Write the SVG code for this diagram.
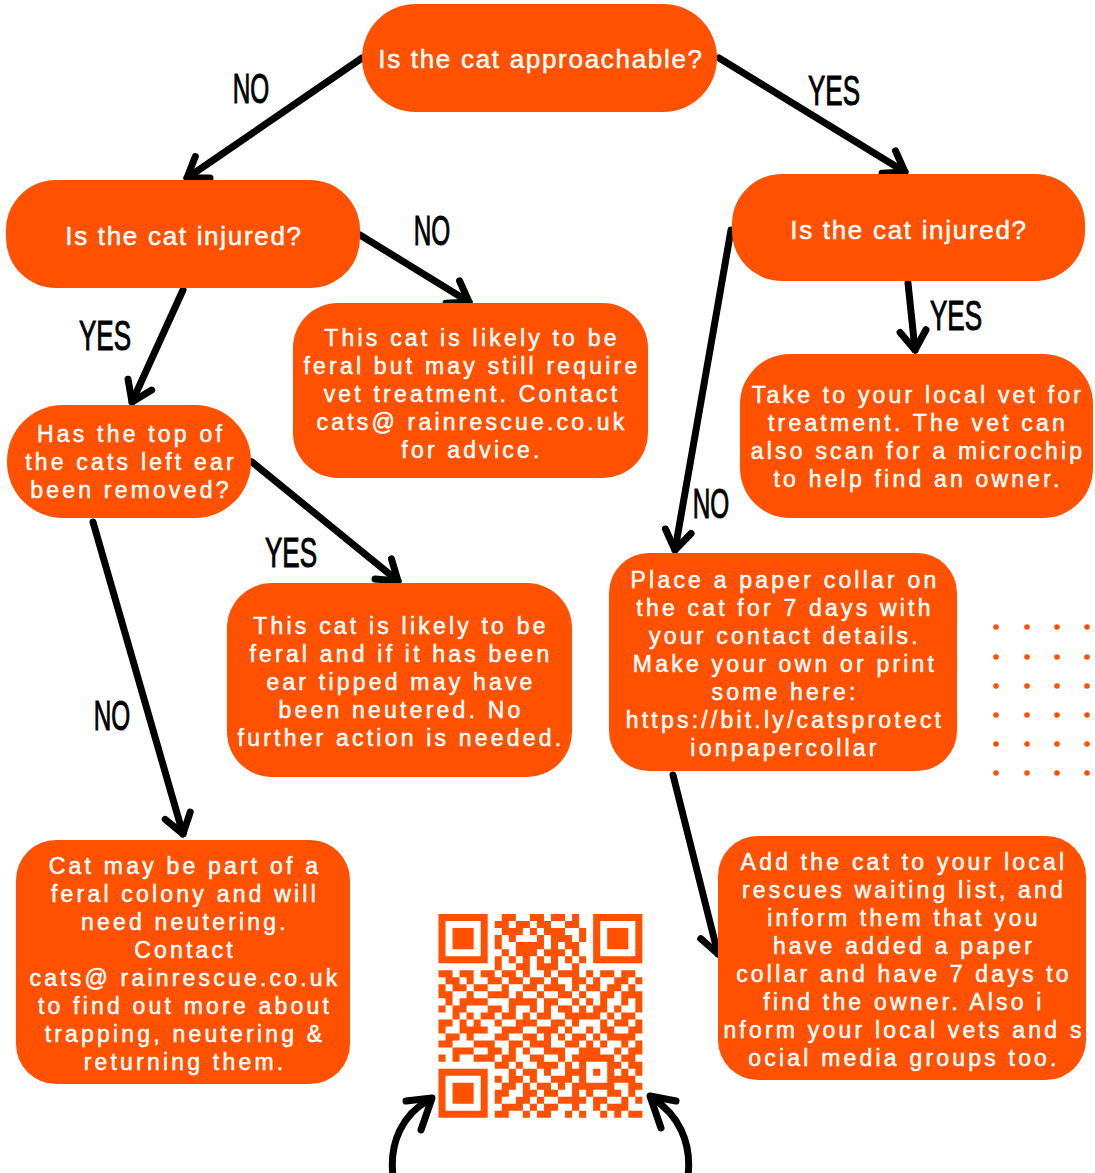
<svg xmlns="http://www.w3.org/2000/svg" width="1095" height="1173" viewBox="0 0 1095 1173">
<defs>
<style>
.node rect{fill:#FF5100}
.t{font-family:"Liberation Sans",Arial,sans-serif;fill:#fff;stroke:#fff;stroke-width:0.5;text-anchor:middle}
.title{font-size:26px;letter-spacing:1.7px}
.body{font-size:23px;letter-spacing:3.2px}
.lbl{font-family:"Liberation Sans",Arial,sans-serif;font-size:42px;fill:#000;stroke:#000;stroke-width:1;text-anchor:middle}
.edge{stroke:#000;stroke-width:7;fill:none;stroke-linecap:round;stroke-linejoin:round}
.dot{fill:#FF5100}
</style>
<marker id="ah" markerUnits="userSpaceOnUse" viewBox="-30 -20 40 40" refX="0" refY="0" markerWidth="40" markerHeight="40" orient="auto" overflow="visible">
<path d="M-19,-13 L0,0 L-19,13" fill="none" stroke="#000" stroke-width="7" stroke-linecap="round" stroke-linejoin="round"/>
</marker>
</defs>
<rect width="1095" height="1173" fill="#fff"/>

<g id="connectors">
<path class="edge" d="M362,58 L187,178" marker-end="url(#ah)"/>
<path class="edge" d="M719,58 L905,172" marker-end="url(#ah)"/>
<path class="edge" d="M360,235 L469,302" marker-end="url(#ah)"/>
<path class="edge" d="M183,290 L132,402" marker-end="url(#ah)"/>
<path class="edge" d="M908,283 L915,350" marker-end="url(#ah)"/>
<path class="edge" d="M731,230 L675,550" marker-end="url(#ah)"/>
<path class="edge" d="M252,462 L398,581" marker-end="url(#ah)"/>
<path class="edge" d="M93,522 L183,834" marker-end="url(#ah)"/>
<path class="edge" d="M673,775 L718,954" marker-end="url(#ah)"/>
<path class="edge" d="M393,1176 C389,1142 403,1114 429,1100"/>
<path class="edge" stroke-width="9" d="M406,1101 L432,1098 L421,1130"/>
<path class="edge" d="M688,1176 C692,1142 678,1114 652,1098"/>
<path class="edge" stroke-width="9" d="M676,1101 L650,1096 L661,1128"/>
</g>

<g id="labels">
<text class="lbl" transform="translate(251,103) scale(0.58,1)">NO</text>
<text class="lbl" transform="translate(834,105) scale(0.62,1)">YES</text>
<text class="lbl" transform="translate(432,245) scale(0.58,1)">NO</text>
<text class="lbl" transform="translate(105,350) scale(0.62,1)">YES</text>
<text class="lbl" transform="translate(956,330) scale(0.62,1)">YES</text>
<text class="lbl" transform="translate(711,518) scale(0.58,1)">NO</text>
<text class="lbl" transform="translate(291,567) scale(0.62,1)">YES</text>
<text class="lbl" transform="translate(112,730) scale(0.58,1)">NO</text>
</g>

<g id="n1" class="node">
<rect x="362" y="4" width="355" height="108" rx="54"/>
<text class="t title" x="541" y="68">Is the cat approachable?</text>
</g>
<g id="n2" class="node">
<rect x="6" y="180" width="354" height="108" rx="50"/>
<text class="t title" x="184" y="245">Is the cat injured?</text>
</g>
<g id="n3" class="node">
<rect x="732" y="174" width="353" height="107" rx="50"/>
<text class="t title" x="909" y="239">Is the cat injured?</text>
</g>
<g id="n4" class="node">
<rect x="293" y="303" width="355" height="175" rx="45"/>
<text class="t body"><tspan x="472" y="346">This cat is likely to be</tspan><tspan x="472" y="374">feral but may still require</tspan><tspan x="472" y="402">vet treatment. Contact</tspan><tspan x="472" y="430">cats@ rainrescue.co.uk</tspan><tspan x="472" y="458">for advice.</tspan></text>
</g>
<g id="n5" class="node">
<rect x="740" y="354" width="353" height="164" rx="50"/>
<text class="t body"><tspan x="918" y="403">Take to your local vet for</tspan><tspan x="918" y="431">treatment. The vet can</tspan><tspan x="918" y="459">also scan for a microchip</tspan><tspan x="918" y="487">to help find an owner.</tspan></text>
</g>
<g id="n6" class="node">
<rect x="7" y="405" width="244" height="113" rx="56"/>
<text class="t body"><tspan x="131" y="442">Has the top of</tspan><tspan x="131" y="470">the cats left ear</tspan><tspan x="131" y="498">been removed?</tspan></text>
</g>
<g id="n7" class="node">
<rect x="227" y="583" width="345" height="194" rx="45"/>
<text class="t body"><tspan x="401" y="634">This cat is likely to be</tspan><tspan x="401" y="662">feral and if it has been</tspan><tspan x="401" y="690">ear tipped may have</tspan><tspan x="401" y="718">been neutered. No</tspan><tspan x="401" y="746">further action is needed.</tspan></text>
</g>
<g id="n8" class="node">
<rect x="609" y="553" width="348" height="218" rx="40"/>
<text class="t body"><tspan x="785" y="588">Place a paper collar on</tspan><tspan x="785" y="616">the cat for 7 days with</tspan><tspan x="785" y="644">your contact details.</tspan><tspan x="785" y="672">Make your own or print</tspan><tspan x="785" y="700">some here:</tspan><tspan x="785" y="728">https://bit.ly/catsprotect</tspan><tspan x="785" y="756">ionpapercollar</tspan></text>
</g>
<g id="n9" class="node">
<rect x="16" y="840" width="334" height="244" rx="40"/>
<text class="t body"><tspan x="185" y="874">Cat may be part of a</tspan><tspan x="185" y="902">feral colony and will</tspan><tspan x="185" y="930">need neutering.</tspan><tspan x="185" y="958">Contact</tspan><tspan x="185" y="986">cats@ rainrescue.co.uk</tspan><tspan x="185" y="1014">to find out more about</tspan><tspan x="185" y="1042">trapping, neutering &amp;</tspan><tspan x="185" y="1070">returning them.</tspan></text>
</g>
<g id="n10" class="node">
<rect x="718" y="836" width="368" height="244" rx="40"/>
<text class="t body"><tspan x="904" y="870">Add the cat to your local</tspan><tspan x="904" y="898">rescues waiting list, and</tspan><tspan x="904" y="926">inform them that you</tspan><tspan x="904" y="954">have added a paper</tspan><tspan x="904" y="982">collar and have 7 days to</tspan><tspan x="904" y="1010">find the owner. Also i</tspan><tspan x="904" y="1038">nform your local vets and s</tspan><tspan x="904" y="1066">ocial media groups too.</tspan></text>
</g>

<g id="qr">
<path fill="#FF5100" transform="translate(438.5 914) scale(7.03)" d="M0 0h7v1h-7zM9 0h2v1h-2zM13 0h2v1h-2zM16 0h2v1h-2zM19 0h1v1h-1zM22 0h7v1h-7z
M0 1h1v1h-1zM6 1h1v1h-1zM8 1h2v1h-2zM11 1h2v1h-2zM14 1h2v1h-2zM18 1h2v1h-2zM22 1h1v1h-1zM28 1h1v1h-1z
M0 2h1v1h-1zM2 2h3v1h-3zM6 2h1v1h-1zM9 2h3v1h-3zM13 2h1v1h-1zM15 2h3v1h-3zM20 2h1v1h-1zM22 2h1v1h-1zM24 2h3v1h-3zM28 2h1v1h-1z
M0 3h1v1h-1zM2 3h3v1h-3zM6 3h1v1h-1zM8 3h1v1h-1zM10 3h1v1h-1zM14 3h1v1h-1zM16 3h3v1h-3zM20 3h1v1h-1zM22 3h1v1h-1zM24 3h3v1h-3zM28 3h1v1h-1z
M0 4h1v1h-1zM2 4h3v1h-3zM6 4h1v1h-1zM8 4h1v1h-1zM11 4h4v1h-4zM16 4h1v1h-1zM18 4h2v1h-2zM22 4h1v1h-1zM24 4h3v1h-3zM28 4h1v1h-1z
M0 5h1v1h-1zM6 5h1v1h-1zM9 5h1v1h-1zM11 5h3v1h-3zM15 5h3v1h-3zM19 5h1v1h-1zM22 5h1v1h-1zM28 5h1v1h-1z
M0 6h7v1h-7zM8 6h1v1h-1zM10 6h1v1h-1zM12 6h1v1h-1zM14 6h1v1h-1zM16 6h1v1h-1zM18 6h1v1h-1zM20 6h1v1h-1zM22 6h7v1h-7z
M8 7h1v1h-1zM11 7h2v1h-2zM14 7h3v1h-3zM19 7h1v1h-1z
M0 8h2v1h-2zM3 8h2v1h-2zM6 8h2v1h-2zM9 8h2v1h-2zM12 8h1v1h-1zM15 8h1v1h-1zM17 8h3v1h-3zM21 8h1v1h-1zM23 8h2v1h-2zM26 8h2v1h-2z
M1 9h2v1h-2zM4 9h1v1h-1zM7 9h2v1h-2zM10 9h2v1h-2zM13 9h2v1h-2zM16 9h1v1h-1zM19 9h2v1h-2zM22 9h1v1h-1zM25 9h2v1h-2zM28 9h1v1h-1z
M0 10h1v1h-1zM2 10h2v1h-2zM5 10h2v1h-2zM9 10h1v1h-1zM12 10h2v1h-2zM15 10h3v1h-3zM19 10h1v1h-1zM21 10h2v1h-2zM24 10h2v1h-2zM27 10h1v1h-1z
M0 11h2v1h-2zM4 11h1v1h-1zM7 11h3v1h-3zM11 11h1v1h-1zM14 11h1v1h-1zM17 11h2v1h-2zM20 11h1v1h-1zM23 11h2v1h-2zM26 11h3v1h-3z
M1 12h1v1h-1zM3 12h4v1h-4zM10 12h4v1h-4zM15 12h2v1h-2zM19 12h1v1h-1zM21 12h1v1h-1zM23 12h1v1h-1zM26 12h1v1h-1zM28 12h1v1h-1z
M0 13h1v1h-1zM2 13h2v1h-2zM7 13h2v1h-2zM10 13h1v1h-1zM13 13h1v1h-1zM15 13h1v1h-1zM17 13h2v1h-2zM20 13h1v1h-1zM22 13h2v1h-2zM25 13h1v1h-1zM28 13h1v1h-1z
M2 14h1v1h-1zM4 14h1v1h-1zM6 14h2v1h-2zM9 14h2v1h-2zM12 14h1v1h-1zM14 14h2v1h-2zM18 14h5v1h-5zM24 14h1v1h-1zM26 14h2v1h-2z
M0 15h2v1h-2zM3 15h1v1h-1zM5 15h1v1h-1zM8 15h1v1h-1zM11 15h3v1h-3zM16 15h2v1h-2zM19 15h1v1h-1zM23 15h1v1h-1zM25 15h2v1h-2zM28 15h1v1h-1z
M0 16h1v1h-1zM3 16h4v1h-4zM9 16h3v1h-3zM14 16h3v1h-3zM18 16h1v1h-1zM21 16h1v1h-1zM23 16h2v1h-2zM27 16h2v1h-2z
M1 17h2v1h-2zM4 17h1v1h-1zM8 17h2v1h-2zM12 17h2v1h-2zM15 17h1v1h-1zM17 17h1v1h-1zM19 17h2v1h-2zM22 17h1v1h-1zM24 17h4v1h-4z
M0 18h2v1h-2zM5 18h3v1h-3zM10 18h2v1h-2zM13 18h3v1h-3zM18 18h2v1h-2zM21 18h1v1h-1zM23 18h1v1h-1zM26 18h1v1h-1zM28 18h1v1h-1z
M2 19h3v1h-3zM7 19h2v1h-2zM10 19h1v1h-1zM12 19h1v1h-1zM15 19h3v1h-3zM20 19h3v1h-3zM25 19h1v1h-1zM27 19h2v1h-2z
M0 20h1v1h-1zM2 20h1v1h-1zM5 20h3v1h-3zM9 20h2v1h-2zM13 20h2v1h-2zM17 20h1v1h-1zM19 20h6v1h-6zM26 20h2v1h-2z
M8 21h2v1h-2zM11 21h1v1h-1zM14 21h3v1h-3zM18 21h1v1h-1zM20 21h1v1h-1zM24 21h2v1h-2zM27 21h2v1h-2z
M0 22h7v1h-7zM10 22h1v1h-1zM12 22h2v1h-2zM15 22h1v1h-1zM18 22h3v1h-3zM22 22h1v1h-1zM24 22h1v1h-1zM26 22h1v1h-1zM28 22h1v1h-1z
M0 23h1v1h-1zM6 23h1v1h-1zM8 23h1v1h-1zM10 23h2v1h-2zM13 23h1v1h-1zM16 23h3v1h-3zM20 23h1v1h-1zM24 23h4v1h-4z
M0 24h1v1h-1zM2 24h3v1h-3zM6 24h1v1h-1zM9 24h2v1h-2zM12 24h1v1h-1zM14 24h2v1h-2zM17 24h1v1h-1zM19 24h6v1h-6zM27 24h2v1h-2z
M0 25h1v1h-1zM2 25h3v1h-3zM6 25h1v1h-1zM8 25h2v1h-2zM12 25h2v1h-2zM15 25h2v1h-2zM19 25h1v1h-1zM21 25h1v1h-1zM24 25h2v1h-2zM27 25h1v1h-1z
M0 26h1v1h-1zM2 26h3v1h-3zM6 26h1v1h-1zM8 26h1v1h-1zM11 26h2v1h-2zM14 26h1v1h-1zM17 26h4v1h-4zM22 26h2v1h-2zM26 26h1v1h-1zM28 26h1v1h-1z
M0 27h1v1h-1zM6 27h1v1h-1zM9 27h3v1h-3zM13 27h1v1h-1zM15 27h2v1h-2zM19 27h1v1h-1zM22 27h1v1h-1zM24 27h3v1h-3z
M0 28h7v1h-7zM8 28h2v1h-2zM12 28h1v1h-1zM14 28h2v1h-2zM18 28h1v1h-1zM20 28h1v1h-1zM23 28h1v1h-1zM25 28h1v1h-1zM27 28h2v1h-2z"/>
</g>

<g id="dots">
<circle class="dot" cx="996" cy="627" r="2.8"/><circle class="dot" cx="1027" cy="627" r="2.8"/><circle class="dot" cx="1057" cy="627" r="2.8"/><circle class="dot" cx="1087" cy="627" r="2.8"/>
<circle class="dot" cx="996" cy="657" r="2.8"/><circle class="dot" cx="1027" cy="657" r="2.8"/><circle class="dot" cx="1057" cy="657" r="2.8"/><circle class="dot" cx="1087" cy="657" r="2.8"/>
<circle class="dot" cx="996" cy="686" r="2.8"/><circle class="dot" cx="1027" cy="686" r="2.8"/><circle class="dot" cx="1057" cy="686" r="2.8"/><circle class="dot" cx="1087" cy="686" r="2.8"/>
<circle class="dot" cx="996" cy="715" r="2.8"/><circle class="dot" cx="1027" cy="715" r="2.8"/><circle class="dot" cx="1057" cy="715" r="2.8"/><circle class="dot" cx="1087" cy="715" r="2.8"/>
<circle class="dot" cx="996" cy="744" r="2.8"/><circle class="dot" cx="1027" cy="744" r="2.8"/><circle class="dot" cx="1057" cy="744" r="2.8"/><circle class="dot" cx="1087" cy="744" r="2.8"/>
<circle class="dot" cx="996" cy="773" r="2.8"/><circle class="dot" cx="1027" cy="773" r="2.8"/><circle class="dot" cx="1057" cy="773" r="2.8"/><circle class="dot" cx="1087" cy="773" r="2.8"/>
</g>
</svg>
